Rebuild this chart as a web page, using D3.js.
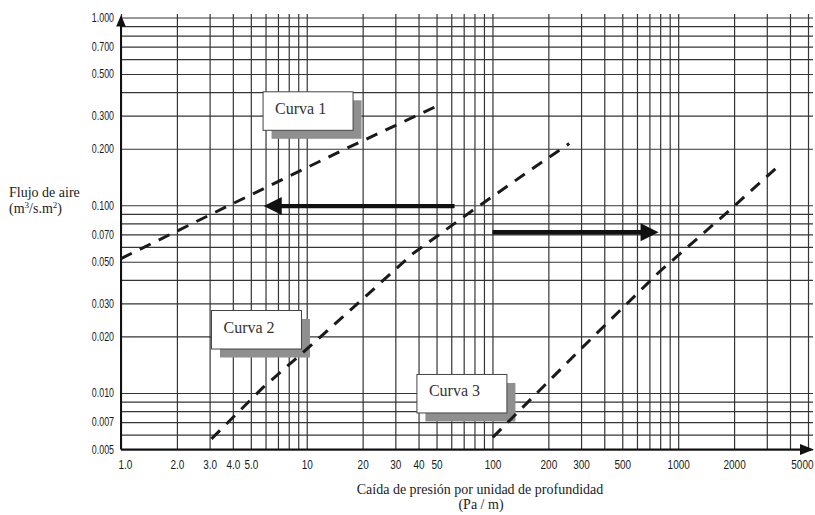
<!DOCTYPE html>
<html>
<head>
<meta charset="utf-8">
<script src="https://cdn.jsdelivr.net/npm/d3@7"></script>
<style>
  body { margin: 0; background: #fff; }
  svg { display: block; }
  .tick-label { font-family: "Liberation Sans", Arial, sans-serif; fill: #1a1a1a; }
  .title { font-family: "Liberation Serif", "Times New Roman", serif; font-size: 14px; fill: #222; }
  .box-label { font-family: "Liberation Serif", "Times New Roman", serif; font-size: 16px; fill: #333; }
</style>
</head>
<body>
<svg id="chart" width="815" height="515"></svg>
<script>
// Air flow through a bed vs. pressure drop per unit depth, log-log chart

// Axis ticks
const xTickValues = [1, 2, 3, 4, 5, 10, 20, 30, 40, 50, 100, 200, 300, 500, 1000, 2000, 5000];
const xTickLabels = ["1.0", "2.0", "3.0", "4.0", "5.0", "10", "20", "30", "40", "50", "100", "200", "300", "500", "1000", "2000", "5000"];
const yTickValues = [1, 0.7, 0.5, 0.3, 0.2, 0.1, 0.07, 0.05, 0.03, 0.02, 0.01, 0.007, 0.005];
const yTickLabels = ["1.000", "0.700", "0.500", "0.300", "0.200", "0.100", "0.070", "0.050", "0.030", "0.020", "0.010", "0.007", "0.005"];

// Curves: [pressure drop (Pa/m), air flow (m3/s.m2)]
const curve1 = [[1.0, 0.052], [4.0, 0.102], [15.7, 0.197], [53, 0.346]];
const curve2 = [[3.07, 0.0057], [5.82, 0.0107], [10.8, 0.0183], [20.1, 0.0318], [37.3, 0.0553], [78.4, 0.094], [164.7, 0.157], [259, 0.213]];
const curve3 = [[100.4, 0.0058], [293.6, 0.01685], [790, 0.0441], [1805, 0.0903], [3353, 0.157]];
const curveNames = ["Curva 1", "Curva 2", "Curva 3"];

// Label boxes, top-left corner in data units
const labelAnchorX = [5.82, 3.07, 39.2];
const labelAnchorY = [0.402, 0.0275, 0.01255];

// Horizontal arrows at constant flow
const arrowFromX = [62.5, 100];
const arrowToX = [5.87, 784];
const arrowY = [0.099, 0.0718];

const svg = d3.select("#chart");

const plotLeft = 121, plotRight = 808, plotTop = 17.5, plotBottom = 449.5;
const gridRight = 813;
const x = d3.scaleLog().domain([1, 5000]).range([plotLeft, plotRight]);
const y = d3.scaleLog().domain([0.005, 1]).range([plotBottom, plotTop]);

// grid line values for each decade
const gridX = [];
[1, 10, 100].forEach(d => { for (let k = 1; k <= 9; k++) gridX.push(k * d); });
for (let k = 1; k <= 5; k++) gridX.push(k * 1000);
const gridY = [];
[0.001, 0.01, 0.1].forEach(d => { for (let k = 1; k <= 9; k++) { const v = +(k * d).toPrecision(3); if (v >= 0.005) gridY.push(v); } });
gridY.push(1);

const gridColor = "#353535";

// vertical grid
const gx = svg.append("g").attr("transform", `translate(0,${plotBottom})`)
  .call(d3.axisBottom(x).tickValues(gridX).tickSize(-(plotBottom - 14)).tickFormat(""));
gx.select(".domain").remove();
gx.selectAll("line").attr("stroke", gridColor).attr("stroke-width", 1.2);

// horizontal grid
const gy = svg.append("g").attr("transform", `translate(${plotLeft},0)`)
  .call(d3.axisRight(y).tickValues(gridY).tickSize(gridRight - plotLeft).tickFormat(""));
gy.select(".domain").remove();
gy.selectAll("line").attr("stroke", gridColor).attr("stroke-width", 1.2);

// tick labels, set in a condensed face (horizontally squeezed)
const squeeze = 0.78;
const ax = svg.append("g").attr("transform", `translate(0,${plotBottom})`)
  .call(d3.axisBottom(x).tickValues(xTickValues).tickSize(0).tickPadding(10)
    .tickFormat((d, i) => xTickLabels[i]));
ax.select(".domain").remove();
ax.attr("font-family", null).attr("font-size", null);
ax.selectAll("text").attr("class", "tick-label").attr("fill", null)
  .attr("font-size", "12.8px").attr("transform", `scale(${squeeze},1)`);
// keep the outermost labels inside the frame
ax.selectAll(".tick").each(function (d) {
  const t = d3.select(this).select("text");
  const w = this.querySelector("text").getComputedTextLength() * squeeze;
  const cx = x(d);
  let shift = 0;
  if (cx + w / 2 > gridRight) shift = gridRight - (cx + w / 2);
  if (cx - w / 2 < plotLeft - 3) shift = (plotLeft - 3) - (cx - w / 2);
  t.attr("x", shift / squeeze);
});

const ay = svg.append("g").attr("transform", `translate(${plotLeft},0)`)
  .call(d3.axisLeft(y).tickValues(yTickValues).tickSize(0).tickPadding(7)
    .tickFormat((d, i) => yTickLabels[i]));
ay.select(".domain").remove();
ay.attr("font-family", null).attr("font-size", null);
ay.selectAll("text").attr("class", "tick-label").attr("fill", null)
  .attr("font-size", "12px").attr("x", -7 / 0.74).attr("transform", "scale(0.74,1)");

// axis lines with arrowheads
svg.append("line").attr("x1", plotLeft).attr("x2", 806).attr("y1", plotBottom).attr("y2", plotBottom)
  .attr("stroke", "#111").attr("stroke-width", 2);
svg.append("line").attr("x1", plotLeft).attr("x2", plotLeft).attr("y1", plotBottom).attr("y2", 22)
  .attr("stroke", "#111").attr("stroke-width", 2);
svg.append("path").attr("d", `M${plotLeft - 4.8},26.5 L${plotLeft},15 L${plotLeft + 4.8},26.5 Z`).attr("fill", "#111");
svg.append("path").attr("d", `M800,${plotBottom - 5.5} L814,${plotBottom} L800,${plotBottom + 5.5} Z`).attr("fill", "#111");

// label boxes with drop shadow
const boxW = 90, boxH = 38.5, shadow = 8.5;
const boxes = svg.append("g").selectAll("g").data(curveNames).join("g")
  .attr("transform", (d, i) => `translate(${x(labelAnchorX[i])},${y(labelAnchorY[i])})`);
boxes.append("rect").attr("x", shadow).attr("y", shadow).attr("width", boxW).attr("height", boxH)
  .attr("fill", "#8f8f8f");
boxes.append("rect").attr("x", 0).attr("y", 0).attr("width", boxW).attr("height", boxH)
  .attr("fill", "#fff").attr("stroke", "#444").attr("stroke-width", 1);
boxes.append("text").attr("class", "box-label").attr("x", 12).attr("y", 22).text(d => d);

// dashed curves
const line = d3.line().x(d => x(d[0])).y(d => y(d[1]));
svg.append("g").selectAll("path").data([curve1, curve2, curve3]).join("path")
  .attr("d", line).attr("fill", "none").attr("stroke", "#1a1a1a")
  .attr("stroke-width", 3).attr("stroke-dasharray", "12,9");

// arrows
arrowY.forEach((v, i) => {
  const x0 = x(arrowFromX[i]), x1 = x(arrowToX[i]), yy = y(v);
  const dir = Math.sign(x1 - x0);
  const headLen = 18, headHalf = 9;
  svg.append("line").attr("x1", x0).attr("x2", x1 - dir * headLen * 0.6).attr("y1", yy).attr("y2", yy)
    .attr("stroke", "#111").attr("stroke-width", 4.3);
  svg.append("path")
    .attr("d", `M${x1},${yy} L${x1 - dir * headLen},${yy - headHalf} L${x1 - dir * headLen},${yy + headHalf} Z`)
    .attr("fill", "#111");
});

// axis titles
const xt = svg.append("text").attr("class", "title").attr("text-anchor", "middle");
xt.append("tspan").attr("x", 480).attr("y", 494).text("Caída de presión por unidad de profundidad");
xt.append("tspan").attr("x", 481).attr("y", 509).text("(Pa / m)");

const yt = svg.append("text").attr("class", "title");
yt.append("tspan").attr("x", 9).attr("y", 197).text("Flujo de aire");
const yt2 = svg.append("text").attr("class", "title").attr("x", 9).attr("y", 213);
yt2.append("tspan").text("(m");
yt2.append("tspan").attr("dy", -5).attr("font-size", "9px").text("3");
yt2.append("tspan").attr("dy", 5).text("/s.m");
yt2.append("tspan").attr("dy", -5).attr("font-size", "9px").text("2");
yt2.append("tspan").attr("dy", 5).text(")");
</script>
</body>
</html>
